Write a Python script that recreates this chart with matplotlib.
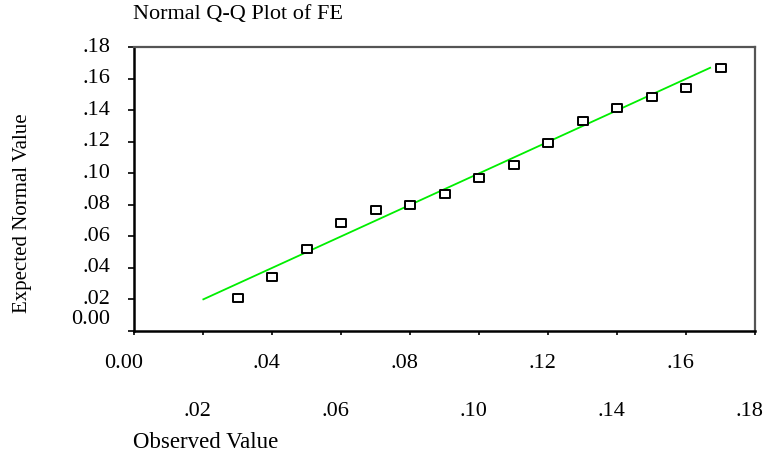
import matplotlib
matplotlib.use("Agg")
import matplotlib.pyplot as plt
import matplotlib.transforms as mtransforms
from matplotlib.path import Path

# ---- data ----
observed = [0.03, 0.04, 0.05, 0.06, 0.07, 0.08, 0.09, 0.10, 0.11, 0.12,
            0.13, 0.14, 0.15, 0.16, 0.17]
expected = [0.0207, 0.0343, 0.0518, 0.0687, 0.0766, 0.0798, 0.0871, 0.0968,
            0.1053, 0.1191, 0.1332, 0.1413, 0.1485, 0.1542, 0.1669]
line_x = [0.0201, 0.1670]
line_y = [0.0201, 0.1670]

x_ticks = [0.00, 0.02, 0.04, 0.06, 0.08, 0.10, 0.12, 0.14, 0.16, 0.18]
x_tick_labels = ['0.00', '.02', '.04', '.06', '.08', '.10', '.12', '.14', '.16', '.18']
y_ticks = [0.00, 0.02, 0.04, 0.06, 0.08, 0.10, 0.12, 0.14, 0.16, 0.18]
y_tick_labels = ['0.00', '.02', '.04', '.06', '.08', '.10', '.12', '.14', '.16', '.18']

title = "Normal Q-Q Plot of FE"
xlabel = "Observed Value"
ylabel = "Expected Normal Value"

plt.rcParams['font.family'] = ['Liberation Serif', 'DejaVu Serif']

fig = plt.figure(figsize=(7.65, 4.62), dpi=100)
ax = fig.add_axes([134/765, 131/462, 621/765, 283.7/462])

ax.set_xlim(0, 0.18)
ax.set_ylim(0, 0.18)

# reference line
ax.plot(line_x, line_y, color='#00ee00', lw=1.3, zorder=2)

# rectangular hollow marker
rect = Path([(-1.35, -1), (1.35, -1), (1.35, 1), (-1.35, 1), (-1.35, -1)],
            [Path.MOVETO, Path.LINETO, Path.LINETO, Path.LINETO, Path.CLOSEPOLY])
ax.plot(observed, expected, linestyle='none', marker=rect, markersize=7,
        markerfacecolor='white', markeredgecolor='black', markeredgewidth=1.4,
        zorder=3)

# spines
ax.spines['left'].set_color('black')
ax.spines['left'].set_linewidth(1.8)
ax.spines['bottom'].set_color('black')
ax.spines['bottom'].set_linewidth(1.8)
ax.spines['top'].set_color('#555555')
ax.spines['top'].set_linewidth(1.6)
ax.spines['right'].set_color('#555555')
ax.spines['right'].set_linewidth(1.6)

# ticks (marks only; labels drawn as text)
ax.set_xticks(x_ticks)
ax.set_yticks(y_ticks)
ax.set_xticklabels([])
ax.set_yticklabels([])
ax.tick_params(axis='x', direction='out', length=3, width=1.2, color='black')
ax.tick_params(axis='y', direction='out', length=4.5, width=1.2, color='black')

fs = 16
xtrans = mtransforms.blended_transform_factory(ax.transData, ax.transAxes)
for i, (v, lab) in enumerate(zip(x_ticks, x_tick_labels)):
    dx = -10/100 if i == 0 else -6/100
    row_dy = -32/100 if i % 2 == 0 else -80/100
    off = mtransforms.ScaledTranslation(dx, row_dy, fig.dpi_scale_trans)
    ax.text(v, 0, lab, transform=xtrans + off, ha='center', va='center',
            fontsize=fs)

ytrans = mtransforms.blended_transform_factory(ax.transAxes, ax.transData)
for i, (v, lab) in enumerate(zip(y_ticks, y_tick_labels)):
    dy = 11/100 if i == 0 else 0
    off = mtransforms.ScaledTranslation(-24/100, dy, fig.dpi_scale_trans)
    ax.text(0, v, lab, transform=ytrans + off, ha='right', va='center',
            fontsize=fs)

fig.text(133/765, 1 - 15/462, title, ha='left', va='center', fontsize=16)
fig.text(133/765, 1 - 442/462, xlabel, ha='left', va='center', fontsize=16.5)
fig.text(23/765, 1 - 213/462, ylabel, ha='center', va='center', rotation=90,
         fontsize=15)

fig.savefig("out.png", dpi=100)
